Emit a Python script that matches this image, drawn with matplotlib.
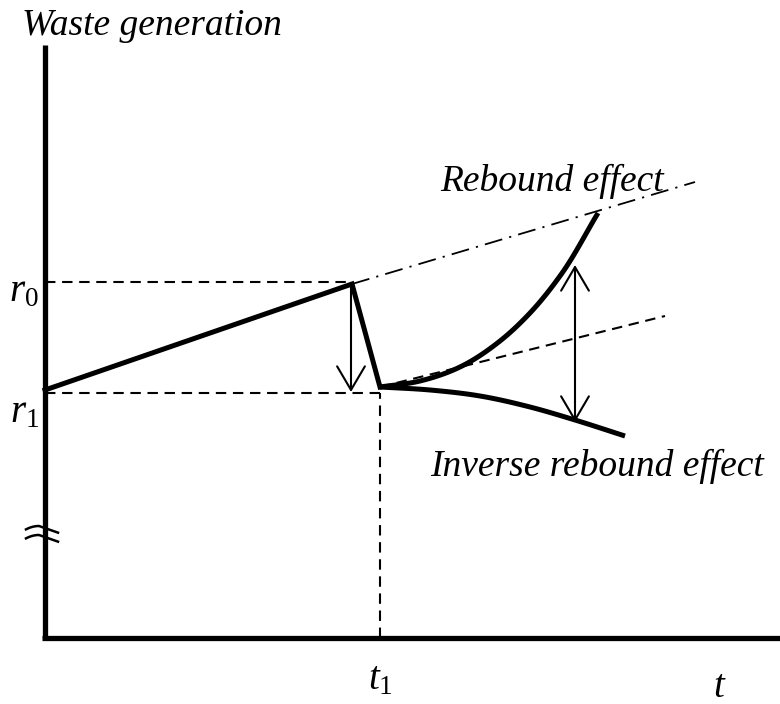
import numpy as np
import matplotlib
matplotlib.use("Agg")
import matplotlib.pyplot as plt

plt.rcParams['mathtext.fontset'] = 'custom'
plt.rcParams['mathtext.it'] = 'Liberation Serif:italic'
plt.rcParams['mathtext.rm'] = 'Liberation Serif'
SERIF = ['Liberation Serif', 'DejaVu Serif']

# ---- data (time, waste) in diagram units ----
trend_t = [0, 307]
trend_w = [248, 354]
drop_t = [307, 335]
drop_w = [354, 251]
r0 = 356
r1 = 245
t1 = 335
peak_t = 307
dashdot_t = [307, 650]
dashdot_w = [354, 456]
dashed_t = [335, 620]
dashed_w = [251, 322]
rebound_t = [335, 375, 415, 455, 485, 515, 553]
rebound_w = [251, 257, 271, 297, 325, 362, 425]
inverse_t = [335, 385, 435, 485, 530, 580]
inverse_w = [251, 248, 242, 231, 218, 202]
arrow1_t = 306
arrow1_w = [354, 246]
arrow2_t = 530
arrow2_w = [373, 216]
break_w = 110

fig = plt.figure(figsize=(7.8, 7.04), dpi=100)
ax = fig.add_axes([0, 0, 1, 1])
ax.set_xlim(-45, 735)
ax.set_ylim(-66, 638)
ax.axis('off')

# axes
ax.plot([0, 0], [0, 593], color='black', lw=3.8, solid_capstyle='butt')
ax.plot([-3, 735], [0, 0], color='black', lw=3.8, solid_capstyle='butt')

dash_style = dict(color='black', lw=1.5, dashes=(5, 3.2))
# reference dashed lines
ax.plot([0, peak_t], [r0, r0], **dash_style)
ax.plot([0, t1], [r1, r1], **dash_style)
ax.plot([t1, t1], [0, r1], **dash_style)
ax.plot(dashed_t, dashed_w, **dash_style)
ax.plot(dashdot_t, dashdot_w, color='black', lw=1.3, dashes=(10, 4, 1.2, 4))

# main solid path
ax.plot(trend_t + drop_t[1:], trend_w + drop_w[1:], color='black', lw=3.6,
        solid_joinstyle='miter')


def smooth(xs, ys, n=80):
    xs = np.asarray(xs, float)
    ys = np.asarray(ys, float)
    s = np.concatenate([[0], np.cumsum(np.hypot(np.diff(xs), np.diff(ys)))])
    u = np.linspace(0, s[-1], n)

    def herm(v):
        m = np.gradient(v, s)
        out = []
        for uu in u:
            i = min(np.searchsorted(s, uu, side='right') - 1, len(s) - 2)
            h = s[i + 1] - s[i]
            tt = (uu - s[i]) / h
            h00 = 2 * tt**3 - 3 * tt**2 + 1
            h10 = tt**3 - 2 * tt**2 + tt
            h01 = -2 * tt**3 + 3 * tt**2
            h11 = tt**3 - tt**2
            out.append(h00 * v[i] + h10 * h * m[i] + h01 * v[i + 1] + h11 * h * m[i + 1])
        return np.array(out)
    return herm(xs), herm(ys)


rx, ry = smooth(rebound_t, rebound_w)
ax.plot(rx, ry, color='black', lw=3.6, solid_capstyle='butt')
ix, iy = smooth(inverse_t, inverse_w)
ax.plot(ix, iy, color='black', lw=3.6, solid_capstyle='butt')

# arrows
ax.annotate('', xy=(arrow1_t, arrow1_w[1]), xytext=(arrow1_t, arrow1_w[0]),
            arrowprops=dict(arrowstyle='->,head_length=0.85,head_width=0.5',
                            lw=1.5, color='black', shrinkA=0, shrinkB=0,
                            mutation_scale=20))
ax.annotate('', xy=(arrow2_t, arrow2_w[1]), xytext=(arrow2_t, arrow2_w[0]),
            arrowprops=dict(arrowstyle='<->,head_length=0.85,head_width=0.5',
                            lw=1.5, color='black', shrinkA=0, shrinkB=0,
                            mutation_scale=20))

# axis break symbol
bx = np.linspace(-19, 13, 40)
for off in (0, -9):
    by = break_w + off + np.where(bx < -6, 2 - 0.02 * (bx + 6) ** 2, 2 - 0.35 * (bx + 6))
    ax.plot(bx, by, color='black', lw=1.8)

# texts
ax.text(-23, 612, 'Waste generation', fontsize=27, family=SERIF, style='italic',
        ha='left', va='center')
ax.text(-6, r0 - 8, r'$r_0$', fontsize=28, ha='right', va='center')
ax.text(-6, r1 - 18, r'$r_1$', fontsize=28, ha='right', va='center')
ax.text(t1, -40, r'$t_1$', fontsize=28, ha='center', va='center')
ax.text(675, -48, r'$t$', fontsize=28, ha='center', va='center')
ax.text(395, 457, 'Rebound effect', fontsize=27, family=SERIF, style='italic',
        ha='left', va='center')
ax.text(385, 172, 'Inverse rebound effect', fontsize=27, family=SERIF, style='italic',
        ha='left', va='center')

fig.savefig('out.png', dpi=100)
